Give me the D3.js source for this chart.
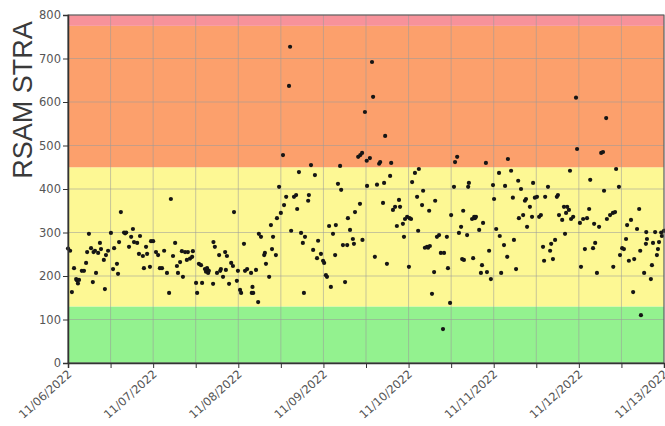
<!DOCTYPE html>
<html>
<head>
<meta charset="utf-8">
<script src="https://cdn.jsdelivr.net/npm/d3@7"></script>
<style>
  body { margin: 0; background: #fff; }
  svg { display: block; font-family: "DejaVu Sans", sans-serif; }
</style>
</head>
<body>
<div class="graphic"></div>
<script>
// hours after 11/06/2022 00:00 and the RSAM value read at that time
const hours = [
  0, 0.6, 1.1, 1.7, 2.3, 2.5, 2.8, 3.1, 3.9, 4.5, 5.1, 5.4, 5.9, 6.5, 7.0, 7.2, 7.6, 7.9, 8.5, 9.0,
  9.3, 10.1, 10.4, 10.7, 11.3, 12.1, 12.7, 13.0, 13.8, 14.1, 14.4, 14.9, 15.8, 16.1, 16.4, 17.2, 17.8, 18.3, 18.6, 19.5,
  20.0, 20.3, 21.1, 21.4, 22.0, 22.3, 23.1, 23.4, 24.0, 24.8, 25.4, 25.9, 26.5, 27.1,
  27.9, 28.5, 29.0, 29.6, 30.2, 30.7, 31.0, 31.6, 32.1, 32.4, 33.0, 33.5, 33.8, 34.4, 35.0, 35.2, 36.1, 36.4, 36.9, 37.5,
  37.8, 38.6, 38.9, 39.2, 39.5, 39.7, 40.9, 41.0, 41.4, 42.0, 42.6, 42.9, 43.1, 43.7, 44.3, 44.5, 44.8, 45.4, 46.0, 46.5,
  46.8, 47.6, 47.9, 48.5, 48.8, 49.6, 49.9, 50.5, 51.6, 51.8, 52.0, 52.2, 53.0, 53.6, 53.8, 54.4, 55.3,
  55.5, 55.8, 56.7, 57.2, 57.5, 57.8, 58.6, 58.9, 59.5, 60.0, 60.6, 60.9, 61.5, 62.3, 62.6, 62.9, 63.7, 64.3, 64.6, 65.1,
  65.7, 66.2, 66.5, 66.8, 67.7, 67.9, 68.5, 69.1, 69.6, 70.2, 70.5, 71.3, 71.9, 72.2, 72.7, 73.0, 73.6, 74.1, 74.7, 75.3,
  75.5, 76.1, 76.7, 77.0, 77.5, 78.1, 78.7, 78.9, 79.5, 80.3, 80.6, 80.9, 81.8, 82.3, 82.4, 82.9, 83.0, 83.7,
  84.3, 84.2, 85.1, 85.7, 86.0, 86.5, 87.1, 87.7, 88.0, 88.8, 89.1, 89.4, 89.9, 90.8, 91.1, 91.6, 92.2, 92.7, 93.3, 93.6,
  94.4, 94.7, 95.0, 95.6, 96.1, 96.3, 96.7, 97.0, 97.8, 98.4, 98.7, 98.9, 99.8, 100.1, 100.6, 101.2, 101.5, 101.8, 102.0, 102.6,
  103.2, 103.5, 104.0, 104.6, 105.1, 105.7, 106.0, 106.8, 107.1, 107.7, 108.0, 108.8, 109.1, 109.7, 110.2, 110.8, 111.1, 111.4,
  111.6, 112.5, 112.8, 113.0, 113.9, 114.2, 114.5, 114.7, 115.0, 115.9, 116.4, 116.7, 117.0, 117.8, 118.1, 118.7, 119.2, 119.8, 120.1, 120.7,
  121.5, 121.7, 122.1, 122.9, 123.2, 123.8, 124.0, 124.9, 125.4, 125.7, 126.3, 126.9, 127.1, 127.7, 128.3, 128.8, 129.1, 129.4, 130.2, 130.8,
  131.1, 131.6, 132.2, 132.8, 133.3, 133.9, 134.2, 134.5, 135.3, 135.9, 136.2, 136.7, 137.3, 137.8, 138.1, 138.4, 139.3, 139.8, 140.1,
  140.4, 140.7, 141.2, 141.5, 141.8, 142.4, 143.2, 143.5, 144.3, 144.6, 145.2, 145.7, 146.3, 146.9, 147.2, 148.0, 148.3, 148.6, 149.1, 149.7,
  150.3, 150.8, 151.1, 151.7, 151.9, 152.8, 153.6, 153.7, 154.2, 154.5, 155.3, 155.6, 156.2, 156.7, 157.3, 157.6, 158.1, 158.7, 159.3, 159.6,
  160.4, 161.0, 161.3, 161.5, 162.4, 162.9, 163.0, 163.2, 164.3, 164.6, 164.9, 165.5, 166.0, 166.3, 166.6, 167.2, 167.4, 168.0
]
const rsam = [
  263, 258, 163, 218, 193, 190, 183, 191, 212, 212, 230, 255, 297, 264, 186, 255, 258, 207, 253, 276,
  262, 237, 170, 248, 258, 299, 216, 264, 228, 205, 278, 347, 300, 298, 300, 267, 290, 308, 278, 276,
  251, 292, 246, 218, 267, 251, 221, 280, 280, 255, 248, 218, 218, 258,
  207, 161, 377, 246, 276, 223, 207, 232, 257, 198, 255, 237, 255, 240, 244, 257, 184, 161, 228, 225,
  184, 216, 210, 218, 207, 212, 182, 278, 267, 207, 248, 212, 216, 198, 255, 214, 246, 182, 230, 223,
  347, 189, 212, 168, 161, 274, 212, 216, 207, 161, 175, 161, 214, 140, 297, 290, 248,
  253, 228, 198, 317, 262, 290, 248, 333, 405, 345, 478, 363, 382, 637, 727, 304, 382, 386, 354, 439,
  299, 276, 161, 290, 373, 386, 455, 260, 432, 241, 281, 251, 235, 230, 202, 198, 315, 175, 297, 248,
  317, 412, 453, 398, 271, 186, 271, 333, 306, 285, 274, 347, 474, 366, 478, 483, 283, 577,
  407, 465, 471, 692, 612, 244, 410, 458, 462, 368, 414, 522, 228, 430, 460, 352, 359, 315, 375, 359,
  320, 290, 331, 336, 221, 333, 331, 416, 437, 382, 304, 446, 363, 396, 265, 267, 265, 350, 269, 159,
  209, 373, 290, 294, 253, 78, 253, 290, 218, 138, 340, 405, 462, 474, 299, 313, 239, 350,
  237, 294, 405, 414, 331, 241, 336, 333, 336, 306, 207, 225, 322, 460, 209, 258, 193, 409, 377, 308,
  437, 292, 207, 271, 407, 244, 469, 442, 380, 283, 216, 419, 333, 400, 340, 373, 377, 313, 359, 336,
  414, 380, 382, 336, 340, 267, 235, 382, 405, 258, 274, 239, 283, 382, 386, 340, 329, 359, 297,
  345, 359, 352, 442, 331, 336, 610, 492, 322, 221, 331, 262, 333, 354, 421, 264, 320, 276, 207, 313,
  483, 485, 396, 563, 331, 340, 345, 221, 347, 446, 405, 248, 264, 262, 285, 317, 235, 329, 163, 239,
  308, 354, 258, 110, 207, 274, 301, 285, 193, 225, 276, 301, 248, 262, 278, 300, 292, 304
]

// alert bands (lower limit, upper limit, colour)
const bandLow = [0, 130, 450, 775]
const bandHigh = [130, 450, 775, 800]
const bandColors = ['#93f28f', '#fdf894', '#fca06c', '#f7929a']
const yTicks = [0, 100, 200, 300, 400, 500, 600, 700, 800]
const startDate = new Date(Date.UTC(2022, 10, 6))
const endDate = new Date(Date.UTC(2022, 10, 13))

const width = 665
const height = 426
const margin = { top: 15, right: 1, bottom: 63, left: 68 }
const w = width - margin.left - margin.right
const h = height - margin.top - margin.bottom

const data = hours.map((hr, i) => ({
  date: new Date(startDate.getTime() + hr * 3600e3),
  value: rsam[i],
}))

const svg = d3.select('.graphic').append('svg')
  .attr('width', width)
  .attr('height', height)

const g = svg.append('g')
  .attr('transform', `translate(${margin.left},${margin.top})`)

const x = d3.scaleUtc().domain([startDate, endDate]).range([0, w])
const y = d3.scaleLinear().domain([0, 800]).range([h, 0])

// bands
g.selectAll('rect.band')
  .data(bandLow)
  .enter().append('rect')
    .attr('class', 'band')
    .attr('x', 0)
    .attr('width', w)
    .attr('y', (d, i) => y(bandHigh[i]))
    .attr('height', (d, i) => y(d) - y(bandHigh[i]))
    .attr('fill', (d, i) => bandColors[i])

// grid
const xGrid = x.ticks(d3.utcHour.every(12))
g.append('g')
  .selectAll('line')
  .data(xGrid)
  .enter().append('line')
    .attr('x1', d => x(d)).attr('x2', d => x(d))
    .attr('y1', 0).attr('y2', h)
    .attr('stroke', '#9a9a9a')
    .attr('stroke-opacity', 0.55)

g.append('g')
  .selectAll('line')
  .data(yTicks)
  .enter().append('line')
    .attr('x1', 0).attr('x2', w)
    .attr('y1', d => y(d)).attr('y2', d => y(d))
    .attr('stroke', '#9a9a9a')
    .attr('stroke-opacity', 0.55)

// points
g.append('g')
  .selectAll('circle')
  .data(data)
  .enter().append('circle')
    .attr('cx', d => x(d.date))
    .attr('cy', d => y(d.value))
    .attr('r', 2.1)
    .attr('fill', '#151515')

// frame
g.append('rect')
  .attr('width', w)
  .attr('height', h)
  .attr('fill', 'none')
  .attr('stroke', '#555')
  .attr('stroke-width', 1)

// axes
const yAxis = g.append('g')
  .call(d3.axisLeft(y).tickValues(yTicks).tickSize(5).tickPadding(2))
yAxis.select('.domain').attr('stroke', '#333').attr('stroke-width', 1.5)
yAxis.selectAll('.tick line').attr('stroke', '#333')
yAxis.selectAll('.tick text')
  .attr('fill', '#555')
  .style('font-size', '11.5px')
  .style('font-family', '"DejaVu Sans", sans-serif')

const fmt = d3.utcFormat('%m/%d/%Y')
const xAxis = g.append('g')
  .attr('transform', `translate(0,${h})`)
  .call(d3.axisBottom(x)
    .tickValues(xGrid)
    .tickSize(5)
    .tickFormat(d => d.getUTCHours() === 0 ? fmt(d) : ''))
xAxis.select('.domain').attr('stroke', '#333').attr('stroke-width', 1.5)
xAxis.selectAll('.tick line').attr('stroke', '#333')
xAxis.selectAll('.tick text')
  .attr('fill', '#555')
  .style('font-size', '11.5px')
  .style('font-family', '"DejaVu Sans", sans-serif')
  .attr('text-anchor', 'end')
  .attr('dy', 0)
  .attr('y', 0)
  .attr('transform', 'translate(4,12) rotate(-42)')

// y title
svg.append('text')
  .attr('transform', 'translate(32,100) rotate(-90)')
  .attr('text-anchor', 'middle')
  .attr('fill', '#3a3a3a')
  .style('font-family', '"Liberation Sans", Arial, sans-serif')
  .style('font-size', '27px')
  .text('RSAM STRA')
</script>
</body>
</html>
